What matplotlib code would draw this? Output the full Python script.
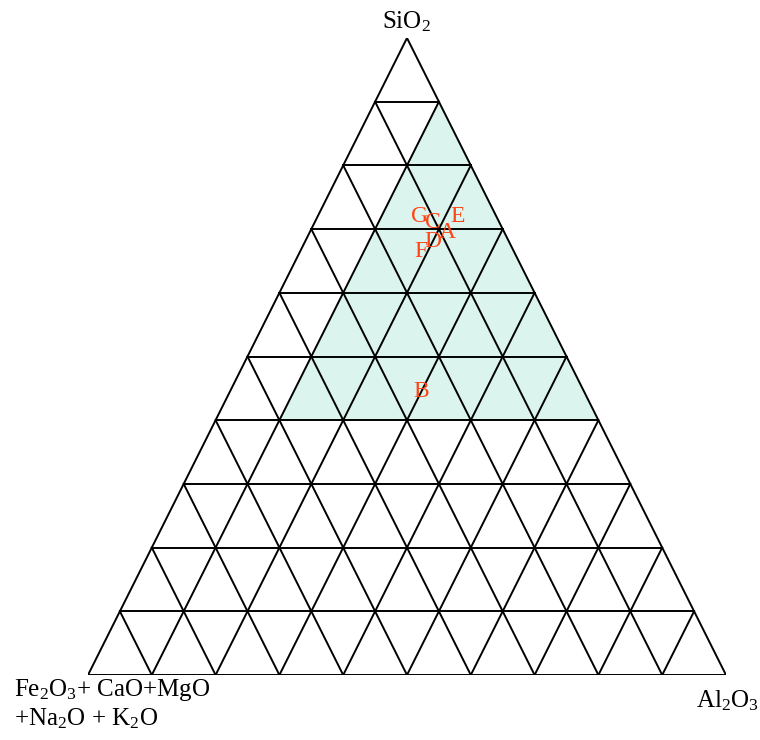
import matplotlib
matplotlib.use("Agg")
import matplotlib.pyplot as plt
import numpy as np

plt.rcParams['font.family'] = ['Liberation Serif', 'DejaVu Serif']
plt.rcParams['mathtext.fontset'] = 'custom'
plt.rcParams['mathtext.rm'] = 'Liberation Serif'
plt.rcParams['mathtext.it'] = 'Liberation Serif:italic'

# sample compositions, wt% (SiO2, Al2O3, fluxes)
samples = ['G', 'C', 'E', 'A', 'D', 'F', 'B']
sio2 = [72, 71, 72, 69.5, 68, 66.5, 44.5]
al2o3 = [16, 18.5, 22, 21.5, 20, 19, 30]
flux = [12, 10.5, 6, 9, 12, 14.5, 25.5]

# shaded field: SiO2 >= 40, Al2O3 >= 10
field_sio2 = [90, 40, 40]
field_al2o3 = [10, 10, 60]

n_div = 10


def to_xy(s, a):
    s = np.asarray(s, dtype=float) / 100.0
    a = np.asarray(a, dtype=float) / 100.0
    return a + s / 2.0, s


fig = plt.figure(figsize=(7.6, 7.4), dpi=100)
ax = fig.add_axes([88 / 760, 65 / 740, 638 / 760, 637 / 740])
ax.set_xlim(0, 1)
ax.set_ylim(0, 1)
ax.set_axis_off()

fx, fy = to_xy(field_sio2, field_al2o3)
ax.fill(fx, fy, color='#dcf4ee', lw=0, zorder=1)

# grid lines for each component
lw = 1.4
for i in range(n_div + 1):
    t = 100.0 * i / n_div
    # constant SiO2
    x, y = to_xy([t, t], [0, 100 - t])
    ax.plot(x, y, color='black', lw=lw, zorder=2)
    # constant Al2O3
    x, y = to_xy([0, 100 - t], [t, t])
    ax.plot(x, y, color='black', lw=lw, zorder=2)
    # constant flux
    x, y = to_xy([0, 100 - t], [100 - t, 0])
    ax.plot(x, y, color='black', lw=lw, zorder=2)

px, py = to_xy(sio2, al2o3)
for name, x, y in zip(samples, px, py):
    ax.text(x, y, name, color='#ff4515', fontsize=17, ha='center',
            va='center', zorder=3, clip_on=False)

fig.text(406 / 760, 1 - 22 / 740, 'SiO$_2$', fontsize=18, ha='center',
         va='center')
fig.text(727 / 760, 1 - 701 / 740, 'Al$_2$O$_3$', fontsize=18, ha='center',
         va='center')
fig.text(14 / 760, 1 - 690 / 740, 'Fe$_2$O$_3$+ CaO+MgO', fontsize=18,
         ha='left', va='center')
fig.text(14 / 760, 1 - 719 / 740, '+Na$_2$O + K$_2$O', fontsize=18,
         ha='left', va='center')

fig.savefig('out.png', dpi=100)
